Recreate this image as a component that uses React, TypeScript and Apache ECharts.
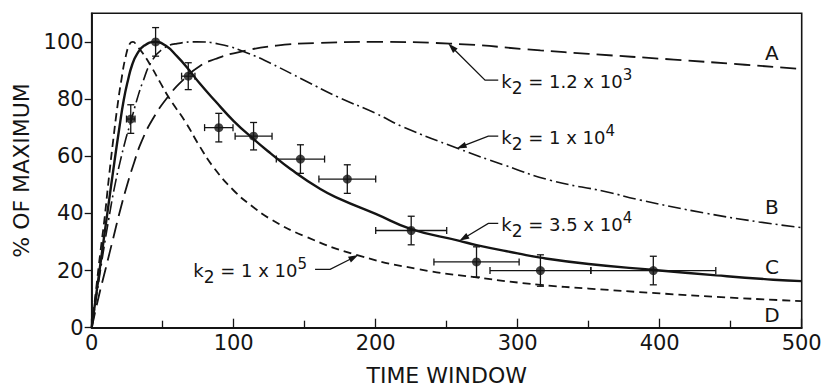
import { useEffect, useRef } from "react";
import * as echarts from "echarts";

// ---- data ----
const curveA: [number, number][] = [
  [0, 0], [5, 11], [10, 21], [15, 31], [20, 41], [25, 50], [30, 58], [35, 65], [43, 73],
  [54, 81], [65, 87], [76, 91.5], [87, 94], [100, 96], [130, 98.7], [160, 99.6], [196, 100],
  [252, 99.4], [316, 97], [350, 95.8], [410, 93.8], [460, 92], [500, 90.5],
];
const curveB: [number, number][] = [
  [0, 0], [4, 13], [8, 26], [12, 38], [16, 49], [20, 58], [24, 66], [27.5, 72], [32, 80],
  [36, 86], [42, 93], [50, 97.5], [60, 99.4], [74, 100], [90, 99.2], [110, 96], [126, 92.5],
  [150, 86.5], [173, 80.8], [200, 75], [219, 70.3], [258, 62.7], [290, 57], [323, 51.6],
  [363, 47.5], [386, 44.7], [433, 40], [470, 37], [500, 35],
];
const curveC: [number, number][] = [
  [0, 0], [5.5, 20], [11, 40], [16, 58], [19.5, 70], [22.5, 79.5], [25.5, 86.5], [28.5, 92],
  [32, 95.8], [37, 98.7], [44.6, 100], [52, 98.7], [60, 95], [68, 90.5],
  [76, 85.5], [87, 79.3], [100, 72.3], [114, 66], [126, 61], [140, 55.5], [161, 48.5],
  [175, 45], [200, 39.8], [225, 34.5], [259, 30.4], [271, 28.9], [300, 26], [316, 24.5],
  [350, 22.3], [396, 20.2], [440, 18.3], [480, 16.8], [500, 16.3],
];
const curveD: [number, number][] = [
  [0, 0], [3, 13], [6, 26], [9, 38], [12, 52], [15, 65], [18, 77], [21, 87], [24, 95],
  [27, 99.5], [29, 100], [32, 98.5], [36, 96], [42, 91.3], [48, 86], [55, 80], [66, 72],
  [76, 63.5], [86, 56], [100, 48], [113, 42.5], [126, 38], [150, 32], [187, 25.4],
  [230, 20.5], [271, 17.6], [316, 15], [350, 13.7], [400, 12], [450, 10.5], [500, 9.3],
];

const pointX = [27.5, 45, 68, 89.5, 114, 147, 180, 225, 271, 316, 395.5];
const pointY = [73, 100, 88, 70, 67, 59, 52, 34, 23, 20, 20];
const errX = [3, 0, 4.7, 10, 13, 17, 20, 25, 30, 35.5, 44];
const errY = [5, 5, 4.7, 5, 4.8, 5, 5, 5, 5.3, 5.5, 5];

const xTicks = [0, 100, 200, 300, 400, 500];
const yTicks = [0, 20, 40, 60, 80, 100];

const curveLetters = ["A", "B", "C", "D"];
const letterPos: [number, number][] = [[479, 96], [479, 42.3], [479, 21.3], [479, 4.4]];

// annotations: rich label text, tip, elbow, end of leader (data coords)
const annLabels = [
  "{m|k}{s|2}{m| = 1.2 x 10}{p|3}",
  "{m|k}{s|2}{m| = 1 x 10}{p|4}",
  "{m|k}{s|2}{m| = 3.5 x 10}{p|4}",
  "{m|k}{s|2}{m| = 1 x 10}{p|5}",
];
const annTip: [number, number][] = [[251.1, 99.4], [257, 62.7], [258.9, 30.4], [187.8, 25.4]];
const annElbow: [number, number][] = [[277, 86.6], [279.3, 67], [279.3, 36.5], [167.9, 20.4]];
const annEnd: [number, number][] = [[286.3, 86.6], [286.3, 67], [286.3, 36.5], [157.3, 20.4]];
const annSide = ["right", "right", "right", "left"];

const FONT = "DejaVu Sans";
const INK = "#141414";

export default function App() {
  const ref = useRef<HTMLDivElement>(null);
  useEffect(() => {
    const chart = echarts.init(ref.current!, null, { renderer: "svg" });
    const lineSeries = (data: [number, number][], type: any, width: number) => ({
      type: "line",
      data,
      showSymbol: false,
      smooth: 0.5,
      lineStyle: { color: INK, width, type },
      z: 3,
    });
    chart.setOption({
      animation: false,
      backgroundColor: "#fff",
      grid: {
        left: 91.7, right: 25.3, top: 13.3, bottom: 59.3,
        show: true, borderColor: INK, borderWidth: 1.6,
        containLabel: false, outerBoundsMode: "none",
      },
      xAxis: {
        type: "value", min: 0, max: 500, interval: 100,
        name: "TIME WINDOW", nameLocation: "middle", nameGap: 37,
        nameTextStyle: { fontFamily: FONT, fontSize: 22, color: INK },
        axisLine: { lineStyle: { color: INK, width: 1.8 } },
        axisTick: { inside: true, length: 9, lineStyle: { color: INK, width: 1.3 } },
        minorTick: { show: true, splitNumber: 2, length: 7, lineStyle: { color: INK, width: 1.3 } },
        axisLabel: { customValues: xTicks, fontFamily: FONT, fontSize: 21, color: INK, margin: 5 },
        splitLine: { show: false },
      },
      yAxis: {
        type: "value", min: 0, max: 110, interval: 20,
        name: "% OF MAXIMUM", nameLocation: "middle", nameGap: 57,
        nameTextStyle: { fontFamily: FONT, fontSize: 22, color: INK },
        axisLine: { lineStyle: { color: INK, width: 1.8 } },
        axisTick: { customValues: yTicks, inside: false, length: 7, lineStyle: { color: INK, width: 1.3 } },
        axisLabel: { customValues: yTicks, fontFamily: FONT, fontSize: 21, color: INK, margin: 8 },
        splitLine: { show: false },
      },
      series: [
        lineSeries(curveA, [16, 7], 1.8),
        lineSeries(curveB, [13, 4, 2, 4], 1.6),
        lineSeries(curveC, "solid", 2.4),
        lineSeries(curveD, [8, 5], 1.8),
        {
          type: "custom",
          data: pointX.map((x, i) => [x, pointY[i], errX[i], errY[i]]),
          renderItem: (_p: any, api: any) => {
            const x = api.value(0), y = api.value(1), ex = api.value(2), ey = api.value(3);
            const t = api.coord([x, y + ey]);
            const b = api.coord([x, y - ey]);
            const cap = 3.5;
            const st = { stroke: INK, lineWidth: 1.3 };
            const children: any[] = [
              { type: "line", shape: { x1: t[0], y1: t[1], x2: b[0], y2: b[1] }, style: st },
              { type: "line", shape: { x1: t[0] - cap, y1: t[1], x2: t[0] + cap, y2: t[1] }, style: st },
              { type: "line", shape: { x1: b[0] - cap, y1: b[1], x2: b[0] + cap, y2: b[1] }, style: st },
            ];
            if (ex > 0) {
              const l = api.coord([x - ex, y]);
              const r = api.coord([x + ex, y]);
              children.push(
                { type: "line", shape: { x1: l[0], y1: l[1], x2: r[0], y2: r[1] }, style: st },
                { type: "line", shape: { x1: l[0], y1: l[1] - cap, x2: l[0], y2: l[1] + cap }, style: st },
                { type: "line", shape: { x1: r[0], y1: r[1] - cap, x2: r[0], y2: r[1] + cap }, style: st },
              );
            }
            return { type: "group", children };
          },
          z: 5,
        },
        {
          type: "scatter",
          data: pointX.map((x, i) => [x, pointY[i]]),
          symbol: "circle",
          symbolSize: 9,
          itemStyle: { color: INK },
          z: 6,
        },
      ],
    });

    const px = (p: [number, number]) => chart.convertToPixel({ gridIndex: 0 }, p) as number[];
    const graphics: any[] = [];
    const rich = {
      m: { fontFamily: FONT, fontSize: 18, lineHeight: 29, fill: INK },
      s: { fontFamily: FONT, fontSize: 17, lineHeight: 17, verticalAlign: "bottom", fill: INK },
      p: { fontFamily: FONT, fontSize: 15, lineHeight: 19, verticalAlign: "top", fill: INK },
    };
    annLabels.forEach((txt, i) => {
      const tip = px(annTip[i]);
      const elb = px(annElbow[i]);
      const end = px(annEnd[i]);
      const dx = tip[0] - elb[0], dy = tip[1] - elb[1];
      const len = Math.hypot(dx, dy);
      const ux = dx / len, uy = dy / len;
      const L = 10, W = 3.2;
      const bx = tip[0] - ux * L, by = tip[1] - uy * L;
      graphics.push({
        type: "polyline",
        shape: { points: [end, elb, [bx + ux * 3, by + uy * 3]] },
        style: { stroke: INK, lineWidth: 1.3, fill: null },
        z: 10,
      });
      graphics.push({
        type: "polygon",
        shape: { points: [tip, [bx - uy * W, by + ux * W], [bx + uy * W, by - ux * W]] },
        style: { fill: INK },
        z: 10,
      });
      const right = annSide[i] === "right";
      graphics.push({
        type: "text",
        x: right ? end[0] + 3 : end[0] - 8,
        y: end[1] + 1.5,
        style: {
          text: txt, rich, align: right ? "left" : "right", verticalAlign: "middle",
          fill: INK, fontFamily: FONT, fontSize: 18,
        },
        z: 10,
      });
    });
    curveLetters.forEach((c, i) => {
      const p = px(letterPos[i]);
      graphics.push({
        type: "text", x: p[0], y: p[1],
        style: { text: c, fontFamily: FONT, fontSize: 20, fill: INK, align: "center", verticalAlign: "middle" },
        z: 10,
      });
    });
    chart.setOption({ graphic: graphics });
    return () => chart.dispose();
  }, []);
  return (
    <div
      ref={ref}
      style={{ position: "fixed", left: 0, top: 0, width: 827, height: 387, background: "#fff" }}
    />
  );
}
